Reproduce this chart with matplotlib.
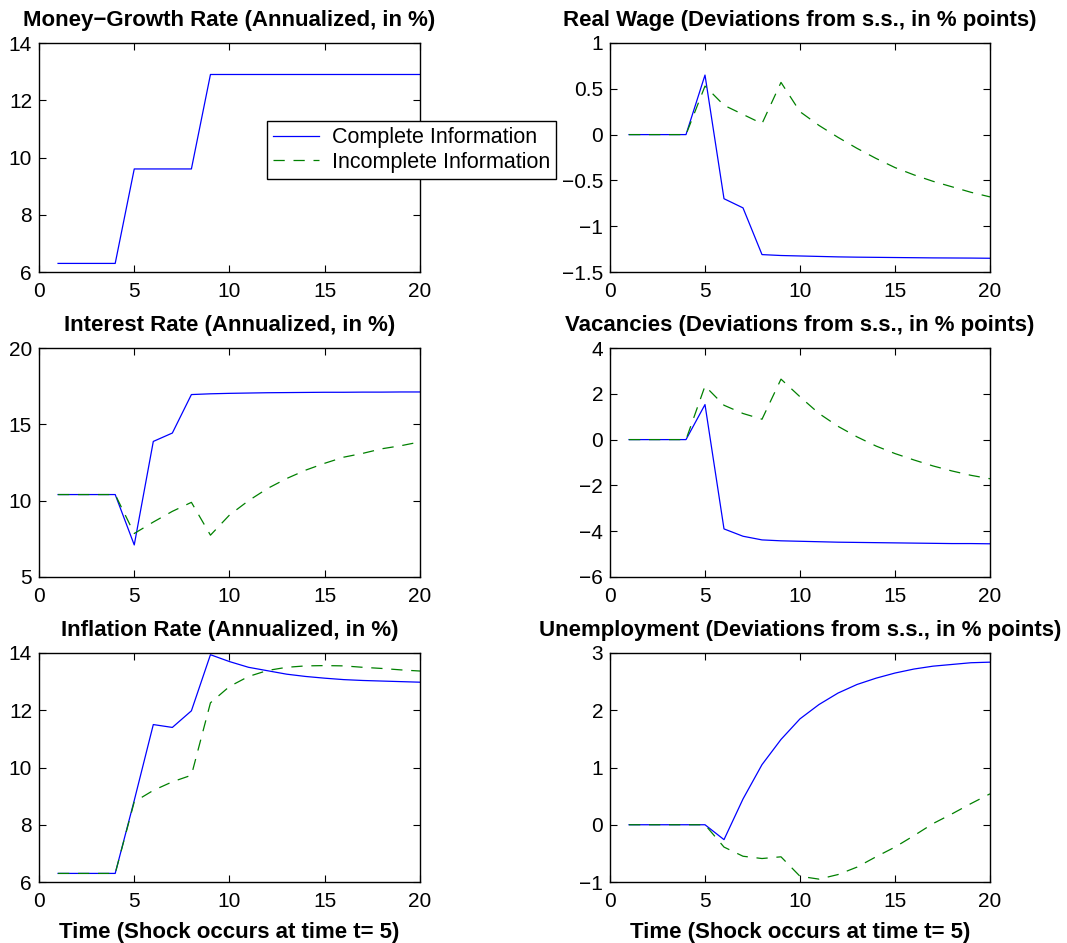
import matplotlib
matplotlib.use("Agg")
import matplotlib.pyplot as plt
from matplotlib.ticker import FuncFormatter

plt.rcParams['font.family'] = ['Liberation Sans', 'DejaVu Sans']

t = list(range(1, 21))

# money growth (annualized, %)
money_complete = [6.3, 6.3, 6.3, 6.3, 9.6, 9.6, 9.6, 9.6, 12.9, 12.9,
                  12.9, 12.9, 12.9, 12.9, 12.9, 12.9, 12.9, 12.9, 12.9, 12.9]

# real wage (deviation from s.s.)
wage_complete = [0, 0, 0, 0, 0.65, -0.70, -0.80, -1.31, -1.32, -1.325,
                 -1.33, -1.335, -1.338, -1.34, -1.342, -1.344, -1.346, -1.347, -1.348, -1.35]
wage_incomplete = [0, 0, 0, 0, 0.53, 0.32, 0.22, 0.12, 0.57, 0.25,
                   0.10, -0.03, -0.15, -0.26, -0.36, -0.44, -0.51, -0.57, -0.63, -0.68]

# interest rate (annualized, %)
rate_complete = [10.4, 10.4, 10.4, 10.4, 7.1, 13.88, 14.43, 16.95, 17.0, 17.03,
                 17.05, 17.07, 17.08, 17.09, 17.1, 17.1, 17.11, 17.11, 17.12, 17.12]
rate_incomplete = [10.4, 10.4, 10.4, 10.4, 7.85, 8.6, 9.3, 9.89, 7.74, 9.06,
                   10.0, 10.8, 11.45, 12.0, 12.45, 12.85, 13.1, 13.4, 13.6, 13.85]

# vacancies (deviation from s.s.)
vac_complete = [0, 0, 0, 0, 1.53, -3.9, -4.22, -4.38, -4.42, -4.44,
                -4.46, -4.48, -4.49, -4.5, -4.51, -4.52, -4.53, -4.54, -4.54, -4.55]
vac_incomplete = [0, 0, 0, 0, 2.34, 1.5, 1.14, 0.89, 2.64, 1.87,
                  1.14, 0.58, 0.12, -0.28, -0.61, -0.89, -1.15, -1.37, -1.56, -1.71]

# inflation (annualized, %)
infl_complete = [6.3, 6.3, 6.3, 6.3, 8.85, 11.5, 11.4, 11.98, 13.94, 13.7,
                 13.5, 13.38, 13.26, 13.18, 13.12, 13.07, 13.04, 13.02, 13.0, 12.98]
infl_incomplete = [6.3, 6.3, 6.3, 6.3, 8.8, 9.2, 9.5, 9.73, 12.26, 12.83,
                   13.18, 13.39, 13.5, 13.55, 13.56, 13.55, 13.5, 13.46, 13.41, 13.37]

# unemployment (deviation from s.s.)
unemp_complete = [0, 0, 0, 0, 0, -0.26, 0.45, 1.05, 1.49, 1.85,
                  2.1, 2.3, 2.45, 2.56, 2.65, 2.72, 2.77, 2.8, 2.83, 2.84]
unemp_incomplete = [0, 0, 0, 0, 0, -0.39, -0.55, -0.59, -0.56, -0.90,
                    -0.95, -0.87, -0.74, -0.56, -0.39, -0.19, 0.02, 0.19, 0.37, 0.54]

titles = ["Money\u2212Growth Rate (Annualized, in %)",
          "Real Wage (Deviations from s.s., in % points)",
          "Interest Rate (Annualized, in %)",
          "Vacancies (Deviations from s.s., in % points)",
          "Inflation Rate (Annualized, in %)",
          "Unemployment (Deviations from s.s., in % points)"]
xlabel = "Time (Shock occurs at time t= 5)"
legend_labels = ["Complete Information", "Incomplete Information"]

panels = [(money_complete, None, (6, 14), 2),
          (wage_complete, wage_incomplete, (-1.5, 1), 0.5),
          (rate_complete, rate_incomplete, (5, 20), 5),
          (vac_complete, vac_incomplete, (-6, 4), 2),
          (infl_complete, infl_incomplete, (6, 14), 2),
          (unemp_complete, unemp_incomplete, (-1, 3), 1)]

fig = plt.figure(figsize=(10.67, 9.43), dpi=100)
W, H = 1067.0, 943.0
lefts = [39, 610]
rights = [420, 990]
tops = [43, 348, 653]
bottoms = [272, 577, 882]

fmt = FuncFormatter(lambda v, p: ('%g' % v).replace('-', '\u2212'))
BLUE = (0, 0, 1)
GREEN = (0, 0.5, 0)

handles = None
for i, (comp, incomp, ylim, step) in enumerate(panels):
    r, c = divmod(i, 2)
    ax = fig.add_axes([lefts[c] / W, 1 - bottoms[r] / H,
                       (rights[c] - lefts[c]) / W, (bottoms[r] - tops[r]) / H])
    l1, = ax.plot(t, comp, color=BLUE, lw=0.9, label=legend_labels[0])
    if incomp is not None:
        l2, = ax.plot(t, incomp, color=GREEN, lw=0.9, dashes=(9, 7),
                      label=legend_labels[1])
        handles = [l1, l2]
    ax.set_xlim(0, 20)
    ax.set_ylim(*ylim)
    ax.set_xticks([0, 5, 10, 15, 20])
    n = int(round((ylim[1] - ylim[0]) / step))
    ax.set_yticks([ylim[0] + k * step for k in range(n + 1)])
    ax.yaxis.set_major_formatter(fmt)
    ax.tick_params(direction='in', top=True, right=True, length=5, width=0.8,
                   labelsize=15)
    ax.tick_params(axis='x', pad=7)
    ax.tick_params(axis='y', pad=5)
    for s in ax.spines.values():
        s.set_linewidth(1.0)
    ax.set_title(titles[i], fontsize=16, fontweight='bold', pad=12)
    if r == 2:
        ax.set_xlabel(xlabel, fontsize=16, fontweight='bold', labelpad=8)

fig.legend(handles, legend_labels, loc='upper left',
           bbox_to_anchor=(267 / W, 1 - 121 / H), bbox_transform=fig.transFigure,
           borderaxespad=0, fontsize=15.5, frameon=True, fancybox=False,
           edgecolor='black', framealpha=1, handlelength=2.1, handletextpad=0.6,
           labelspacing=0.15, borderpad=0.3)

fig.savefig("out.png", dpi=100)
